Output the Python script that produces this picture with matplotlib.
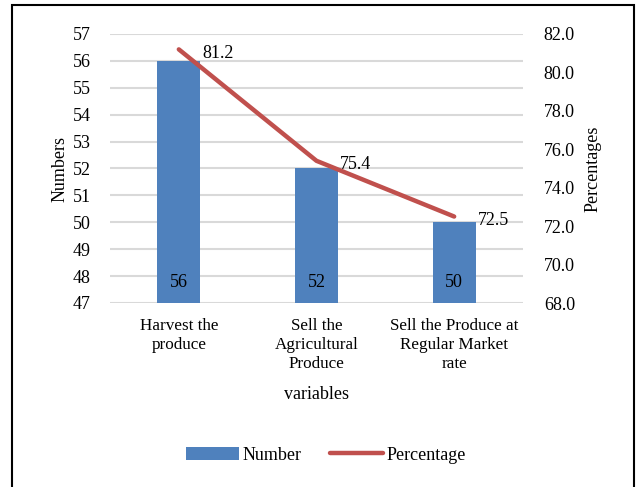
import matplotlib
matplotlib.use("Agg")
from matplotlib import pyplot as plt
from matplotlib.patches import Rectangle
import numpy as np

categories = ["Harvest the\nproduce", "Sell the\nAgricultural\nProduce", "Sell the Produce at\nRegular Market\nrate"]
numbers = [56, 52, 50]
percentages = [81.2, 75.4, 72.5]

plt.rcParams['font.family'] = ['Liberation Serif', 'DejaVu Serif']
plt.rcParams['font.size'] = 13

blue = '#4F81BD'
red = '#C0504D'
grid = '#D9D9D9'

W, H = 637, 487
fig = plt.figure(figsize=(W / 100, H / 100), dpi=100)
ax = fig.add_axes([110 / W, (H - 303) / H, 413 / W, 269 / H])
ax2 = ax.twinx()

x = np.arange(len(categories))
ax.bar(x, [n - 47 for n in numbers], bottom=47, width=0.31, color=blue, zorder=2, label='Number')
ax.set_ylim(47, 57)
ax.set_yticks(range(47, 58))
ax.set_xlim(-0.5, 2.5)
ax.set_xticks(x)
ax.set_xticklabels(categories, linespacing=1.25, fontsize=12.3)
ax.yaxis.grid(True, color=grid, linewidth=1.5, zorder=0)
ax.set_axisbelow(True)
for s in ax.spines.values():
    s.set_visible(False)
for s in ax2.spines.values():
    s.set_visible(False)
ax.tick_params(axis='both', length=0)
ax.tick_params(axis='y', pad=14)
ax.tick_params(axis='x', pad=11)
ax.set_ylabel('Numbers', labelpad=3)
ax.set_xlabel('variables', labelpad=10)

for xi, n in zip(x, numbers):
    ax.text(xi, 47.75, str(n), ha='center', va='center', zorder=3)

ax2.plot(x, percentages, color=red, linewidth=3.2, solid_capstyle='round', zorder=4, label='Percentage')
ax2.set_ylim(68, 82)
ax2.set_yticks(np.arange(68, 83, 2))
ax2.set_yticklabels(['%.1f' % v for v in np.arange(68, 83, 2)])
ax2.tick_params(axis='y', length=0, pad=15)
ax2.set_ylabel('Percentages', labelpad=7)
for xi, p in zip(x, percentages):
    ax2.text(xi + 0.17, p - 0.2, '%.1f' % p, ha='left', va='center', zorder=5)

h1, l1 = ax.get_legend_handles_labels()
h2, l2 = ax2.get_legend_handles_labels()
fig.legend(h1 + h2, l1 + l2, loc='center', bbox_to_anchor=(326 / W, (H - 455) / H),
           ncol=2, frameon=False, handlelength=2.9, handletextpad=0.2, columnspacing=1.6,
           fontsize=13)

fig.patches.append(Rectangle((12 / W, -0.05), 622 / W, (H - 5) / H + 0.05,
                             transform=fig.transFigure, fill=False, edgecolor='black',
                             linewidth=1.5, clip_on=False))

fig.savefig('out.png', dpi=100)
